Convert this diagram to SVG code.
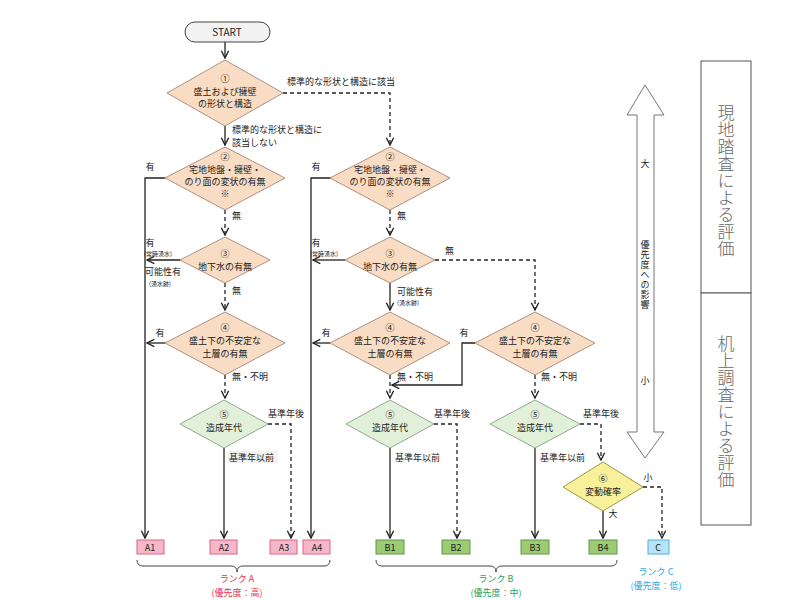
<svg xmlns="http://www.w3.org/2000/svg" width="800" height="600" viewBox="0 0 800 600">
<style>
text{font-family:"Noto Sans CJK JP","Liberation Sans",sans-serif;font-size:9px;fill:#222;text-anchor:middle}
.l{text-anchor:start}
.s{font-size:6px}
.o{fill:#f9dcc4;stroke:#b09080;stroke-width:1}
.g{fill:#e2f0da;stroke:#90a890;stroke-width:1}
.y{fill:#f8f09a;stroke:#a09840;stroke-width:1}
.ln{fill:none;stroke:#222;stroke-width:1.3}
.d{fill:none;stroke:#222;stroke-width:1.3;stroke-dasharray:4,3}
.ra{fill:#f6b8c8;stroke:#e06088}
.rb{fill:#9ccb74;stroke:#5e9a44}
.rc{fill:#b8e4f6;stroke:#48b4e0}
.v{font-size:17px;fill:#666;font-family:"Noto Sans CJK JP",sans-serif}
</style>
<defs>
<marker id="ar" viewBox="0 0 10 10" refX="9" refY="5" markerWidth="7" markerHeight="7" orient="auto"><path d="M1,1 L9,5 L1,9" fill="none" stroke="#222" stroke-width="1.5"/></marker>
</defs>
<g id="connectors">
<path class="ln" d="M225,42 V58" marker-end="url(#ar)"/>
<path class="d" d="M283,93 H390 V145" marker-end="url(#ar)"/>
<path class="ln" d="M225,126 V145" marker-end="url(#ar)"/>
<path class="ln" d="M165,178 H145 V538" marker-end="url(#ar)"/>
<path class="ln" d="M333,178 H311 V538" marker-end="url(#ar)"/>
<path class="d" d="M225,210 V235" marker-end="url(#ar)"/>
<path class="d" d="M390,210 V235" marker-end="url(#ar)"/>
<path class="ln" d="M180,260 H147" marker-end="url(#ar)"/>
<path class="ln" d="M345,260 H313" marker-end="url(#ar)"/>
<path class="d" d="M435,260 H535 V310" marker-end="url(#ar)"/>
<path class="d" d="M225,283 V310" marker-end="url(#ar)"/>
<path class="ln" d="M390,283 V310" marker-end="url(#ar)"/>
<path class="ln" d="M165,343 H147" marker-end="url(#ar)"/>
<path class="ln" d="M330,343 H313" marker-end="url(#ar)"/>
<path class="ln" d="M475,343 H462 V385 H392" marker-end="url(#ar)"/>
<path class="d" d="M225,375 V398" marker-end="url(#ar)"/>
<path class="d" d="M390,375 V398" marker-end="url(#ar)"/>
<path class="d" d="M535,375 V398" marker-end="url(#ar)"/>
<path class="ln" d="M224,448 V538" marker-end="url(#ar)"/>
<path class="d" d="M268,424 H291 V538" marker-end="url(#ar)"/>
<path class="ln" d="M390,448 V538" marker-end="url(#ar)"/>
<path class="d" d="M434,424 H457 V538" marker-end="url(#ar)"/>
<path class="ln" d="M535,448 V538" marker-end="url(#ar)"/>
<path class="d" d="M580,424 H601 V460" marker-end="url(#ar)"/>
<path class="ln" d="M603,511 V538" marker-end="url(#ar)"/>
<path class="d" d="M643,487 H662 V538" marker-end="url(#ar)"/>
</g>
<g id="labels">
<text class="l" x="287" y="85">標準的な形状と構造に該当</text>
<text class="l" x="232" y="133">標準的な形状と構造に</text>
<text class="l" x="232" y="146">該当しない</text>
<text x="150" y="170">有</text><text x="316" y="170">有</text>
<text class="l" x="232" y="219">無</text><text class="l" x="397" y="219">無</text>
<text x="150" y="246">有</text><text class="s" x="158" y="256">(常時湧水)</text>
<text x="163" y="275">可能性有</text><text class="s" x="160" y="286">(湧水跡)</text>
<text x="316" y="246">有</text><text class="s" x="324" y="256">(常時湧水)</text>
<text class="l" x="445" y="254">無</text>
<text class="l" x="232" y="294">無</text>
<text class="l" x="397" y="295">可能性有</text><text class="s l" x="397" y="305">(湧水跡)</text>
<text x="160" y="336">有</text><text x="326" y="336">有</text><text x="464" y="336">有</text>
<text class="l" x="232" y="380">無・不明</text><text class="l" x="397" y="380">無・不明</text><text class="l" x="541" y="380">無・不明</text>
<text class="l" x="268" y="417">基準年後</text><text class="l" x="434" y="417">基準年後</text><text class="l" x="583" y="417">基準年後</text>
<rect x="228" y="451" width="50" height="12" fill="#f2f2f2"/>
<text class="l" x="229" y="461">基準年以前</text><text class="l" x="395" y="461">基準年以前</text><text class="l" x="540" y="461">基準年以前</text>
<text x="648" y="481">小</text><text x="613" y="517">大</text>
</g>
<g id="start"><rect x="185" y="22" width="85" height="20" rx="10" fill="#f2f2f2" stroke="#444"/><text x="227" y="36" style="font-size:10px">START</text></g>
<g id="n1"><polygon class="o" points="225,60 283,93 225,126 167,93"/><text x="225" y="82">①</text><text x="225" y="95">盛土および擁壁</text><text x="225" y="107">の形状と構造</text></g>
<g id="n2a"><polygon class="o" points="225,147 285,178 225,210 165,178"/><text x="225" y="160">②</text><text x="225" y="173">宅地地盤・擁壁・</text><text x="225" y="185">のり面の変状の有無</text><text x="225" y="197">※</text></g>
<g id="n2b"><polygon class="o" points="390,147 450,178 390,210 330,178"/><text x="390" y="160">②</text><text x="390" y="173">宅地地盤・擁壁・</text><text x="390" y="185">のり面の変状の有無</text><text x="390" y="197">※</text></g>
<g id="n3a"><polygon class="o" points="225,237 270,260 225,283 180,260"/><text x="225" y="257">③</text><text x="225" y="270">地下水の有無</text></g>
<g id="n3b"><polygon class="o" points="390,237 435,260 390,283 345,260"/><text x="390" y="257">③</text><text x="390" y="270">地下水の有無</text></g>
<g id="n4a"><polygon class="o" points="225,312 285,343 225,375 165,343"/><text x="225" y="331">④</text><text x="225" y="344">盛土下の不安定な</text><text x="225" y="357">土層の有無</text></g>
<g id="n4b"><polygon class="o" points="390,312 450,343 390,375 330,343"/><text x="390" y="331">④</text><text x="390" y="344">盛土下の不安定な</text><text x="390" y="357">土層の有無</text></g>
<g id="n4c"><polygon class="o" points="535,312 595,343 535,375 475,343"/><text x="535" y="331">④</text><text x="535" y="344">盛土下の不安定な</text><text x="535" y="357">土層の有無</text></g>
<g id="n5a"><polygon class="g" points="224,400 268,424 224,448 180,424"/><text x="224" y="418">⑤</text><text x="224" y="431">造成年代</text></g>
<g id="n5b"><polygon class="g" points="390,400 434,424 390,448 346,424"/><text x="390" y="418">⑤</text><text x="390" y="431">造成年代</text></g>
<g id="n5c"><polygon class="g" points="535,400 580,424 535,448 490,424"/><text x="535" y="418">⑤</text><text x="535" y="431">造成年代</text></g>
<g id="n6"><polygon class="y" points="603,462 643,487 603,511 563,487"/><text x="603" y="482">⑥</text><text x="603" y="495">変動確率</text></g>
<g id="A1"><rect class="ra" x="137" y="540" width="27" height="14"/><text x="150" y="551">A1</text></g>
<g id="A2"><rect class="ra" x="210" y="540" width="27" height="14"/><text x="224" y="551">A2</text></g>
<g id="A3"><rect class="ra" x="270" y="540" width="27" height="14"/><text x="284" y="551">A3</text></g>
<g id="A4"><rect class="ra" x="303" y="540" width="27" height="14"/><text x="317" y="551">A4</text></g>
<g id="B1"><rect class="rb" x="376" y="540" width="28" height="14"/><text x="390" y="551">B1</text></g>
<g id="B2"><rect class="rb" x="442" y="540" width="28" height="14"/><text x="456" y="551">B2</text></g>
<g id="B3"><rect class="rb" x="521" y="540" width="28" height="14"/><text x="535" y="551">B3</text></g>
<g id="B4"><rect class="rb" x="589" y="540" width="28" height="14"/><text x="603" y="551">B4</text></g>
<g id="C"><rect class="rc" x="648" y="540" width="21" height="14"/><text x="658" y="551">C</text></g>
<g id="ranks">
<path d="M137,560 q0,6 6,6 H231 q6,0 6,6 q0,-6 6,-6 H324 q6,0 6,-6" fill="none" stroke="#444"/>
<path d="M376,560 q0,6 6,6 H490 q6,0 6,6 q0,-6 6,-6 H611 q6,0 6,-6" fill="none" stroke="#444"/>
<text x="237" y="582" style="fill:#e83050">ランク A</text><text x="237" y="596" style="fill:#e83050">(優先度：高)</text>
<text x="496" y="582" style="fill:#30a060">ランク B</text><text x="496" y="596" style="fill:#30a060">(優先度：中)</text>
<text x="656" y="575" style="fill:#30a8e0">ランク C</text><text x="656" y="589" style="fill:#30a8e0">(優先度：低)</text>
</g>
<g id="priority">
<polygon points="645,85 664,115 654,115 654,432 664,432 645,458 627,432 637,432 637,115 627,115" fill="#fff" stroke="#777"/>
<text x="645" y="167">大</text>
<text x="645" y="240" style="writing-mode:vertical-rl;text-anchor:start;letter-spacing:1px">優先度への影響</text>
<text x="645" y="384">小</text>
</g>
<g id="phases">
<rect x="701" y="61" width="50" height="232" fill="#fff" stroke="#555"/>
<rect x="701" y="293" width="50" height="232" fill="#fff" stroke="#555"/>
<text class="v" x="726" y="104" style="writing-mode:vertical-rl;text-anchor:start;font-weight:300">現地踏査による評価</text>
<text class="v" x="726" y="335" style="writing-mode:vertical-rl;text-anchor:start;font-weight:300">机上調査による評価</text>
</g>
</svg>
